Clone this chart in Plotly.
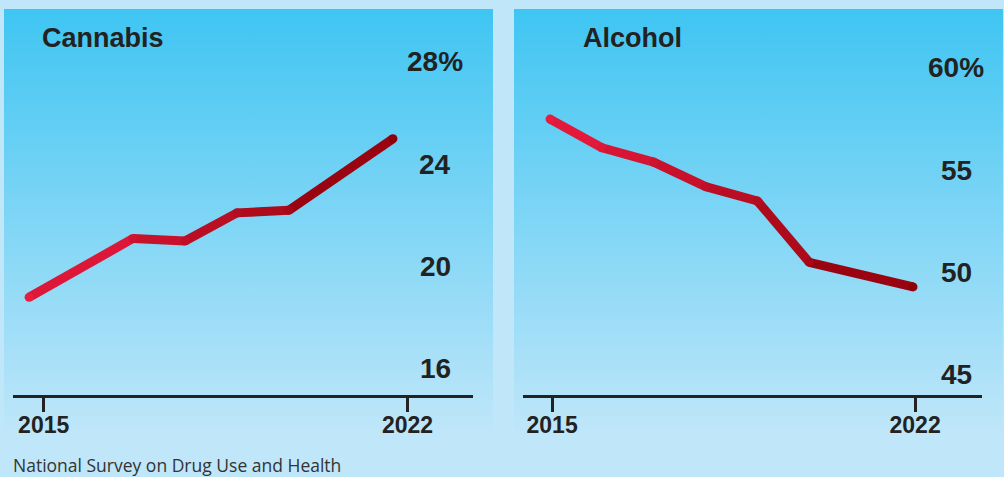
import plotly.graph_objects as go
import base64

# ---------------- data ----------------
cannabis_years = [2015, 2017, 2018, 2019, 2020, 2022]
cannabis_values = [18.8, 21.1, 21.0, 22.1, 22.2, 25.0]
cannabis_yticks = [16, 20, 24, 28]
cannabis_yticktext = ["16", "20", "24", "28%"]

alcohol_years = [2015, 2016, 2017, 2018, 2019, 2020, 2022]
alcohol_values = [57.5, 56.1, 55.4, 54.2, 53.5, 50.5, 49.3]
alcohol_yticks = [45, 50, 55, 60]
alcohol_yticktext = ["45", "50", "55", "60%"]

xtick_years = [2015, 2022]
xtick_text = ["2015", "2022"]

titles = ["Cannabis", "Alcohol"]
source_text = "National Survey on Drug Use and Health"

# ---------------- style ----------------
W, H = 1004, 477
BG = "#BFE6F9"
TOP = "#3FC5F2"
INK = "#222222"
C0 = (233, 27, 63)
C1 = (140, 0, 8)
FONT = "Liberation Sans"

def px_x(p):
    return p / W

def px_y(p):
    return 1 - p / H

def mix(t):
    r = [round(C0[i] + (C1[i] - C0[i]) * t) for i in range(3)]
    return "rgb(%d,%d,%d)" % tuple(r)

svg = (
    '<svg xmlns="http://www.w3.org/2000/svg" width="100" height="100" preserveAspectRatio="none" viewBox="0 0 100 100">'
    '<defs><linearGradient id="g" x1="0" y1="0" x2="0" y2="1">'
    f'<stop offset="0" stop-color="{TOP}"/><stop offset="1" stop-color="{BG}"/>'
    '</linearGradient></defs><rect width="100" height="100" fill="url(#g)"/></svg>'
)
svg_uri = "data:image/svg+xml;base64," + base64.b64encode(svg.encode()).decode()

fig = go.Figure()

panels = [
    dict(years=cannabis_years, vals=cannabis_values, yt=cannabis_yticks, ytt=cannabis_yticktext,
         xa="x", ya="y", xdom=(13, 473), xr=(2014.69, 2023.54), yr=(14.98, 30.07),
         tick_off=0.28, panel=(4, 493), title_x=42, ylab_x=435),
    dict(years=alcohol_years, vals=alcohol_values, yt=alcohol_yticks, ytt=alcohol_yticktext,
         xa="x2", ya="y2", xdom=(523, 982), xr=(2014.479, 2023.33), yr=(44.02, 62.88),
         tick_off=0.04, panel=(514, 1003), title_x=583, ylab_x=956),
]

ydom = (px_y(395), px_y(9))

for i, p in enumerate(panels):
    # panel background gradient
    fig.add_layout_image(dict(
        source=svg_uri, xref="paper", yref="paper",
        x=px_x(p["panel"][0]), y=px_y(9),
        sizex=px_x(p["panel"][1] - p["panel"][0]), sizey=(432 - 9) / H,
        sizing="stretch", xanchor="left", yanchor="top", layer="below"))

    xs, ys = p["years"], p["vals"]
    x0, x1 = xs[0], xs[-1]
    # gradient line segments
    for k in range(len(xs) - 1):
        t = ((xs[k] + xs[k + 1]) / 2 - x0) / (x1 - x0)
        fig.add_trace(go.Scatter(
            x=[xs[k], xs[k + 1]], y=[ys[k], ys[k + 1]], mode="lines",
            line=dict(color=mix(t), width=9), xaxis=p["xa"], yaxis=p["ya"],
            hoverinfo="skip", showlegend=False))
    # round joins / caps
    fig.add_trace(go.Scatter(
        x=xs, y=ys, mode="markers",
        marker=dict(size=9, color=[mix((x - x0) / (x1 - x0)) for x in xs], line=dict(width=0)),
        xaxis=p["xa"], yaxis=p["ya"], showlegend=False,
        hovertemplate="%{x}: %{y}%<extra></extra>"))

    # y tick labels (centered)
    for v, txt in zip(p["yt"], p["ytt"]):
        fig.add_annotation(
            x=px_x(p["ylab_x"]), xref="paper", y=v, yref=p["ya"],
            text=txt, showarrow=False, xanchor="center", yanchor="middle",
            font=dict(family=FONT, size=28, color=INK, weight=700))

    # title
    fig.add_annotation(
        x=px_x(p["title_x"] - 2), xref="paper", y=px_y(38), yref="paper",
        text=titles[i], showarrow=False, xanchor="left", yanchor="middle",
        font=dict(family=FONT, size=27, color=INK, weight=700))

    axis_num = "" if i == 0 else "2"
    fig.update_layout(**{
        "xaxis" + axis_num: dict(
            domain=[px_x(p["xdom"][0]), px_x(p["xdom"][1])], range=list(p["xr"]),
            showgrid=False, zeroline=False, showline=True, linecolor=INK, linewidth=3,
            ticks="outside", ticklen=14, tickwidth=3, tickcolor=INK,
            tickvals=[y + p["tick_off"] for y in xtick_years], ticktext=xtick_text,
            tickfont=dict(family=FONT, size=23, color=INK, weight=700),
            ticklabelstandoff=-7,
            anchor=p["ya"], fixedrange=True),
        "yaxis" + axis_num: dict(
            domain=list(ydom), range=list(p["yr"]), visible=False,
            anchor=p["xa"], fixedrange=True),
    })

fig.add_annotation(
    x=px_x(11), xref="paper", y=px_y(465), yref="paper", text=source_text,
    showarrow=False, xanchor="left", yanchor="middle",
    font=dict(family="Open Sans", size=17.5, color="#333333"))

fig.update_layout(
    width=W, height=H, margin=dict(l=0, r=0, t=0, b=0),
    paper_bgcolor=BG, plot_bgcolor="rgba(0,0,0,0)",
    showlegend=False,
)

fig.write_html("out.html", config={"displayModeBar": False})
